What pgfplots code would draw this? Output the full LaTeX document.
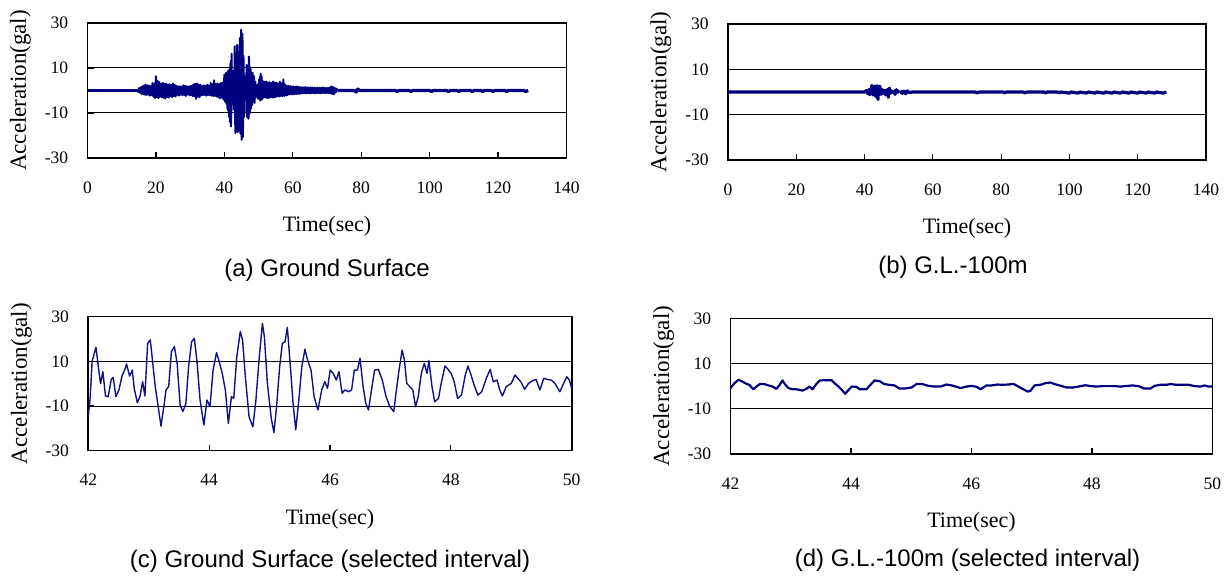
\documentclass[border=0pt]{standalone}
\usepackage{pgfplots}
\pgfplotsset{compat=1.18}
\usepackage{pgfplotstable}
\usepackage{fontspec}
\setmainfont{Liberation Serif}
\newfontfamily\capfont{Liberation Sans}
\definecolor{navy}{RGB}{0,0,128}
\definecolor{navyc}{RGB}{16,16,136}

% Ground surface, selected interval 42-50 s
\pgfplotstableread{
t v
42.000 -14.8
42.032 -5.8
42.063 10.0
42.127 16.3
42.177 5.4
42.203 0.0
42.241 5.4
42.285 -5.5
42.329 -5.8
42.380 1.9
42.412 2.8
42.456 -5.8
42.507 -2.8
42.557 3.4
42.602 6.1
42.633 8.8
42.684 3.4
42.728 6.1
42.760 -2.1
42.811 -8.5
42.855 -5.8
42.899 0.9
42.937 -5.5
42.982 18.0
43.026 19.6
43.064 9.9
43.108 -1.3
43.153 -9.6
43.203 -19.0
43.254 -9.6
43.286 -2.8
43.330 -1.3
43.375 14.3
43.425 16.6
43.470 9.1
43.520 -9.6
43.565 -12.5
43.615 -8.8
43.660 7.6
43.710 18.8
43.755 20.3
43.799 9.9
43.850 -7.3
43.913 -18.5
43.964 -7.3
44.014 -10.3
44.065 6.1
44.122 13.9
44.166 9.9
44.217 4.6
44.268 -2.8
44.318 -17.8
44.369 -5.8
44.407 -6.6
44.458 12.1
44.515 23.3
44.553 19.6
44.597 3.9
44.660 -14.8
44.724 -19.3
44.774 -7.3
44.825 10.6
44.882 27.0
44.914 21.0
44.964 0.1
45.028 -15.5
45.072 -21.9
45.116 -10.3
45.167 7.6
45.211 18.0
45.256 18.8
45.294 25.2
45.338 9.9
45.389 -8.8
45.433 -20.7
45.484 -7.3
45.534 7.6
45.585 15.4
45.629 10.6
45.686 6.1
45.737 -5.8
45.800 -11.8
45.863 -2.8
45.914 0.9
45.959 -2.1
46.003 6.1
46.054 4.6
46.104 1.6
46.149 5.4
46.200 -4.3
46.244 -2.8
46.307 -3.6
46.358 -2.8
46.402 6.1
46.453 6.1
46.497 11.3
46.548 -1.3
46.592 -8.8
46.637 -11.8
46.687 -2.8
46.738 6.1
46.801 6.4
46.865 1.6
46.928 -5.8
46.991 -10.3
47.055 -12.5
47.099 -2.8
47.143 6.1
47.194 15.1
47.232 10.6
47.270 0.1
47.321 -1.3
47.371 -2.8
47.416 -10.3
47.460 -5.8
47.511 4.6
47.561 9.1
47.606 4.6
47.637 10.3
47.688 -1.3
47.732 -8.1
47.796 -6.6
47.840 0.1
47.903 7.9
47.954 6.4
48.005 4.6
48.055 0.9
48.112 -6.6
48.176 -5.1
48.239 3.9
48.283 7.9
48.334 3.9
48.385 -0.6
48.448 -5.1
48.511 -3.6
48.587 2.4
48.651 6.4
48.701 0.9
48.765 1.6
48.809 -2.8
48.853 -5.5
48.917 -1.3
48.999 0.1
49.063 3.9
49.107 2.4
49.157 0.9
49.221 -2.5
49.284 0.1
49.348 1.3
49.411 1.9
49.474 -2.8
49.538 2.4
49.601 1.9
49.664 1.6
49.728 -0.1
49.804 -3.6
49.854 -0.6
49.918 3.1
49.962 1.6
50.000 -2.1
}\datac

% G.L.-100m, selected interval 42-50 s
\pgfplotstableread{
t v
42.000 -0.8
42.066 1.4
42.133 2.9
42.199 2.1
42.266 1.1
42.312 0.7
42.378 -1.3
42.432 -0.1
42.485 1.0
42.564 1.0
42.631 0.4
42.697 -0.1
42.763 -1.1
42.817 0.7
42.863 2.6
42.910 0.7
42.963 -0.8
43.029 -1.3
43.095 -1.3
43.195 -1.9
43.261 -1.1
43.308 -0.1
43.361 -1.3
43.427 1.1
43.481 2.6
43.560 2.7
43.680 2.7
43.726 1.4
43.793 -0.1
43.859 -1.9
43.905 -3.3
43.959 -1.6
44.012 -0.1
44.091 -0.2
44.144 -1.3
44.257 -1.3
44.324 0.7
44.390 2.6
44.476 2.3
44.543 1.1
44.622 0.7
44.722 0.4
44.808 -1.0
44.888 -1.0
45.007 -0.5
45.087 1.0
45.187 1.0
45.286 0.2
45.386 -0.1
45.486 -0.1
45.585 0.8
45.671 0.4
45.738 -0.1
45.817 -0.8
45.917 -0.1
46.003 0.2
46.083 -0.2
46.149 -1.3
46.249 0.4
46.335 0.4
46.428 0.8
46.515 0.7
46.614 0.8
46.694 1.1
46.780 -0.1
46.846 -1.1
46.933 -2.3
46.979 -2.0
47.046 0.4
47.145 0.7
47.225 1.4
47.311 1.7
47.378 1.0
47.464 0.4
47.577 -0.5
47.690 -0.5
47.776 -0.1
47.889 0.5
47.975 0.1
48.075 -0.1
48.174 0.1
48.274 0.1
48.373 0.1
48.473 -0.1
48.553 0.1
48.672 0.4
48.772 0.1
48.871 -1.0
48.971 -1.0
49.037 0.2
49.137 0.7
49.237 0.7
49.303 1.0
49.402 0.7
49.502 0.7
49.602 0.7
49.701 0.1
49.801 -0.1
49.867 0.4
49.934 -0.1
50.000 -0.1
}\datad

% Ground surface: quiet start (thick trace)
\pgfplotstableread{
t v
0 0
14.5 0
}\dataabase

% Ground surface: 14.5-42 s (oscillation)
\pgfplotstableread{
t v
14.50 0.4
14.75 -0.6
15.00 1.0
15.25 -1.0
15.50 1.4
15.75 -1.5
16.00 1.8
16.25 -1.6
16.50 2.2
16.75 -1.9
17.00 2.6
17.25 -2.0
17.50 2.3
17.75 -1.8
18.00 2.2
18.25 -2.3
18.50 1.9
18.75 -2.0
19.00 3.3
19.25 -2.8
19.50 3.0
19.75 -3.3
20.00 6.3
20.25 -3.0
20.50 4.2
20.75 -3.4
21.00 3.8
21.25 -2.7
21.50 3.0
21.75 -3.0
22.00 3.4
22.25 -3.2
22.50 2.9
22.75 -3.6
23.00 3.0
23.25 -2.8
23.50 2.6
23.75 -3.2
24.00 2.8
24.25 -2.5
24.50 2.4
24.75 -3.0
25.00 3.1
25.25 -2.4
25.50 2.5
25.75 -2.7
26.00 2.1
26.25 -2.0
26.50 1.8
26.75 -2.3
27.00 1.9
27.25 -1.8
27.50 1.7
27.75 -2.1
28.00 2.3
28.25 -2.0
28.50 2.0
28.75 -2.4
29.00 1.9
29.25 -1.8
29.50 1.7
29.75 -2.2
30.00 2.0
30.25 -2.1
30.50 2.2
30.75 -2.5
31.00 2.7
31.25 -2.6
31.50 3.0
31.75 -3.7
32.00 3.1
32.25 -2.8
32.50 2.6
32.75 -3.0
33.00 2.5
33.25 -2.2
33.50 2.0
33.75 -2.1
34.00 2.3
34.25 -2.0
34.50 2.1
34.75 -2.3
35.00 2.6
35.25 -2.0
35.50 2.2
35.75 -2.2
36.00 3.4
36.25 -2.3
36.50 2.8
36.75 -2.5
37.00 4.5
37.25 -2.4
37.50 2.9
37.75 -2.7
38.00 3.1
38.25 -3.0
38.50 2.8
38.75 -3.5
39.00 3.3
39.25 -3.2
39.50 3.5
39.75 -4.0
40.00 7.0
40.125 -4.9
40.25 6.0
40.375 -4.5
40.50 7.8
40.625 -6.0
40.75 6.5
40.875 -8.0
41.00 8.6
41.125 -9.0
41.25 7.5
41.375 -11.8
41.50 9.5
41.625 -14.0
41.75 12.0
41.875 -16.0
41.95 13.5
}\dataapre

% Ground surface: 50-73 s
\pgfplotstableread{
t v
50.125 5.0
50.25 -4.0
50.375 6.0
50.50 -4.5
50.625 7.5
50.75 -3.8
50.875 6.5
51.00 -4.0
51.25 4.2
51.50 -3.2
51.75 3.8
52.00 -3.0
52.25 4.0
52.50 -3.4
52.75 3.5
53.00 -3.3
53.25 3.7
53.50 -2.9
53.75 3.3
54.00 -3.2
54.25 4.0
54.50 -3.0
54.75 3.5
55.00 -3.0
55.25 3.5
55.50 -2.6
55.75 3.0
56.00 -2.7
56.25 3.9
56.50 -2.5
56.75 3.2
57.00 -2.5
57.25 4.9
57.50 -2.4
57.75 2.6
58.00 -2.3
58.25 2.1
58.50 -2.0
58.75 2.0
59.00 -1.8
59.25 1.9
59.50 -1.7
59.75 1.8
60.00 -1.7
60.25 1.8
60.50 -1.6
60.75 1.7
61.00 -1.6
61.25 1.8
61.50 -1.5
61.75 1.6
62.00 -1.5
62.25 1.5
62.50 -1.3
62.75 1.4
63.00 -1.3
63.25 1.4
63.50 -1.2
63.75 1.5
64.00 -1.3
64.25 1.3
64.50 -1.2
64.75 1.3
65.00 -1.3
65.25 1.4
65.50 -1.2
65.75 1.3
66.00 -1.2
66.25 1.3
66.50 -1.3
66.75 1.2
67.00 -1.2
67.25 1.3
67.50 -1.1
67.75 1.2
68.00 -1.3
68.25 1.2
68.50 -1.2
68.75 1.3
69.00 -1.1
69.25 1.2
69.50 -1.2
69.75 1.1
70.00 -1.1
70.25 1.2
70.50 -1.2
70.75 1.3
71.00 -1.3
71.25 1.8
71.50 -1.5
71.75 1.6
72.00 -1.7
72.25 1.2
72.50 -1.0
72.75 0.8
73.00 0
}\dataapost

% Ground surface: quiet tail (thick trace)
\pgfplotstableread{
t v
73 0
78 0
78.5 -0.7
79 0.6
79.5 0
90 0
90.5 -0.5
91 0
94 0
94.5 -0.5
95 0
100 0
100.5 -0.5
101 0
105 0
105.5 -0.5
106 0
108 0
108.5 -0.5
109 0
112 0
112.5 -0.5
113 0
115 0
115.5 -0.5
116 0
118 0
118.5 -0.5
119 0
122 0
122.5 -0.5
123 0
127.5 0
128 -0.5
128.8 0
}\dataatail

% G.L.-100m before 42 s
\pgfplotstableread{
t v
0 0
40 0
40.5 0.6
41.0 -0.8
41.25 1.0
41.5 -1.2
41.75 1.5
41.9 -0.5
}\databpre

% G.L.-100m after 50 s
\pgfplotstableread{
t v
50.5 0.5
51 -0.6
51.5 0.4
52 -0.8
52.5 0.5
53 -0.3
54 0
72.5 0
73 -0.4
73.5 0
80.5 0
81 -0.4
81.5 0
86.5 0
87 -0.4
87.5 0
92.5 0
93 -0.4
93.5 0
96.5 0
97 -0.4
97.5 0
100 -0.5
100.5 0
102.5 -0.5
103 0
105 -0.5
105.5 0
107.5 -0.5
108 0
110 -0.5
110.5 0
112.5 -0.5
113 0
115 -0.5
115.5 0
117.5 -0.5
118 0
120 -0.5
120.5 0
122.5 -0.5
123 0
125 -0.5
125.5 0
127.5 -0.5
128.4 0
}\databpost

\pgfplotsset{
  seis/.style={
    scale only axis, anchor=south west, clip=false,
    ymin=-30, ymax=30,
    ytick={-30,-10,10,30}, yticklabels={-30,-10,10,30},
    ymajorgrids, major grid style={black, line width=0.5pt},
    axis line style={black, line width=0.8pt},
    tick align=inside, xtick pos=left, ytick pos=left,
    major tick length=3pt,
    tick style={black, line width=0.6pt},
    /pgf/number format/assume math mode=true,
    tick label style={font=\fontsize{8.75}{10}\selectfont},
    xticklabel style={anchor=center, yshift=-14.75pt},
    yticklabel style={anchor=east, inner sep=0pt, xshift=-9.5pt},
    xlabel={Time(sec)},
    xlabel style={at={(axis description cs:0.5,0)}, anchor=center,
                  yshift=-34.25pt, inner sep=0pt,
                  font=\fontsize{11}{13}\selectfont},
  },
  sig/.style={color=navy, line width=1pt, line join=round, no markers},
  sigthick/.style={color=navy, line width=1.6pt, line join=round, no markers},
}
\newcommand{\acclabel}{\node[rotate=90, inner sep=0pt,
   font=\fontsize{11.5}{13}\selectfont]
   at ([xshift=-33.5pt]rel axis cs:0,0.5) {Acceleration(gal)};}

\begin{document}
\begin{tikzpicture}
\useasboundingbox (0,0) rectangle (614pt,288pt);

% (a)
\begin{axis}[seis, at={(43.75pt,209pt)}, width=239.5pt, height=67.5pt,
  xmin=0, xmax=140, xtick={0,20,...,140}]
  \addplot[sigthick] table[x=t,y=v] {\dataabase};
  \addplot[sig] table[x=t,y=v] {\dataapre};
  \addplot[sig] table[x=t,y=v] {\datac};
  \addplot[sig] table[x=t,y=v] {\dataapost};
  \addplot[sigthick] table[x=t,y=v] {\dataatail};
  \acclabel
\end{axis}

% (b)
\begin{axis}[seis, at={(364pt,208pt)}, width=239pt, height=68pt,
  xmin=0, xmax=140, xtick={0,20,...,140}]
  \addplot[sigthick] table[x=t,y=v] {\databpre};
  \addplot[sigthick] table[x=t,y=v] {\datad};
  \addplot[sigthick] table[x=t,y=v] {\databpost};
  \acclabel
\end{axis}

% (c)
\begin{axis}[seis, at={(44.15pt,62.65pt)}, width=241.7pt, height=67pt,
  xmin=42, xmax=50, xtick={42,44,...,50}]
  \addplot[color=navyc, line width=0.7pt, line join=round, no markers] table[x=t,y=v] {\datac};
  \acclabel
\end{axis}

% (d)
\begin{axis}[seis, at={(365.25pt,61pt)}, width=241pt, height=67.65pt,
  xmin=42, xmax=50, xtick={42,44,...,50}]
  \addplot[color=navy, line width=1.1pt, line join=round, no markers] table[x=t,y=v] {\datad};
  \acclabel
\end{axis}

\node[font=\capfont\fontsize{12}{14}\selectfont] at (163.5pt,153pt) {(a) Ground Surface};
\node[font=\capfont\fontsize{12}{14}\selectfont] at (476.5pt,154.5pt) {(b) G.L.-100m};
\node[font=\capfont\fontsize{12}{14}\selectfont] at (165pt,7.15pt) {(c) Ground Surface (selected interval)};
\node[font=\capfont\fontsize{12}{14}\selectfont] at (483.75pt,8pt) {(d) G.L.-100m (selected interval)};
\end{tikzpicture}
\end{document}
